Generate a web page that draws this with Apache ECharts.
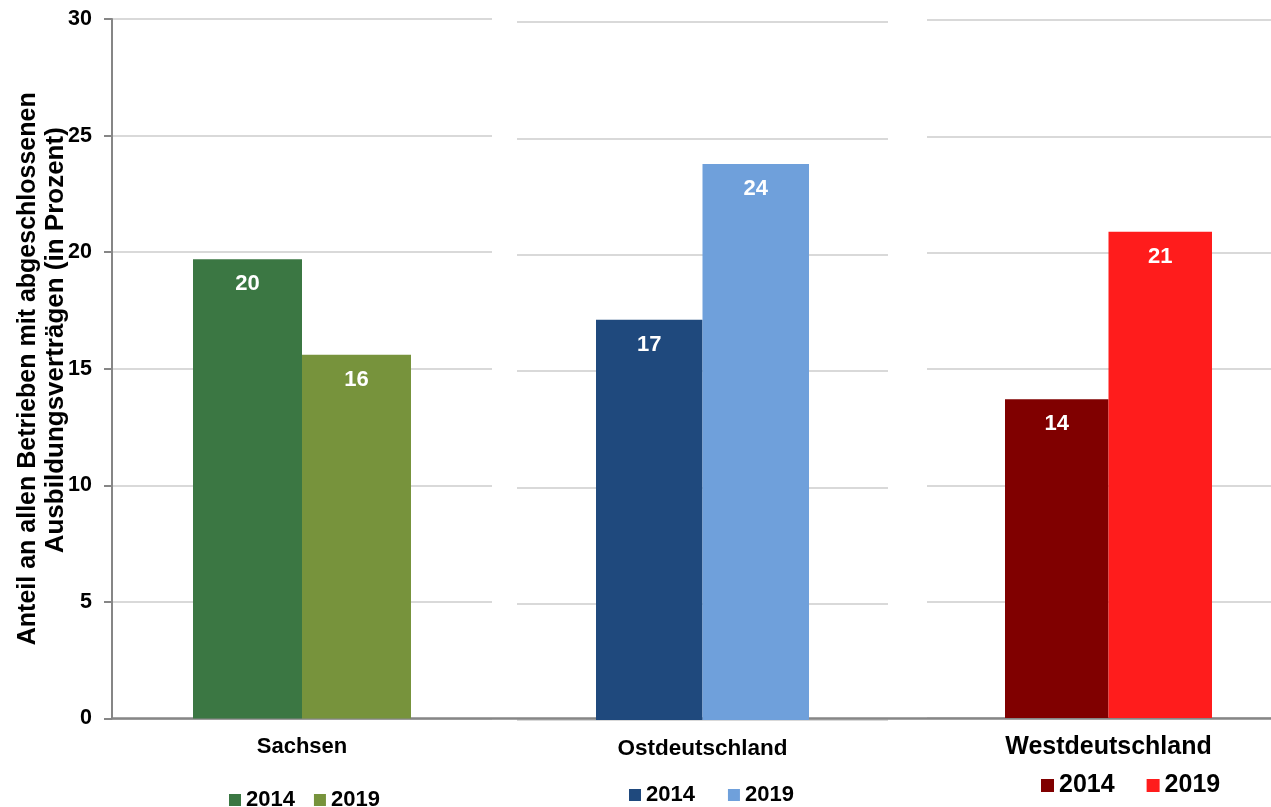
<!DOCTYPE html>
<html>
<head>
<meta charset="utf-8">
<script src="https://cdn.jsdelivr.net/npm/echarts@6/dist/echarts.min.js"></script>
<style>
  html, body { margin: 0; padding: 0; background: #ffffff; }
  #chart { width: 1271px; height: 807px; }
</style>
</head>
<body>
<div id="chart"></div>
<script>
// Regions, survey years and shares (percent of all establishments)
const regions = ['Sachsen', 'Ostdeutschland', 'Westdeutschland'];
const years = ['2014', '2019'];
const values2014 = [19.7, 17.2, 13.7];
const values2019 = [15.6, 23.9, 20.9];
const yTicks = { min: 0, max: 30, interval: 5 };
const titleLine1 = 'Anteil an allen Betrieben mit abgeschlossenen';
const titleLine2 = 'Ausbildungsverträgen (in Prozent)';

// Colour pairs per region: [2014, 2019]
const palette = [
  ['#3B7743', '#77933C'],
  ['#1F497D', '#6FA0DB'],
  ['#800000', '#FF1C1C']
];

// Panel geometry (one small multiple per region)
const panels = [
  { left: 112, width: 380, top: 19, height: 699.5, barWidth: 109, catSize: 22, catMargin: 17, legLeft: 229, legTop: 789, legGap: 19, legSize: 22, legIcon: 12 },
  { left: 517, width: 371, top: 22, height: 698, barWidth: 106.5, catSize: 22.5, catMargin: 17, legLeft: 629, legTop: 784, legGap: 33, legSize: 22, legIcon: 12 },
  { left: 927, width: 363, top: 20, height: 698, barWidth: 103.5, catSize: 25, catMargin: 17, legLeft: 1041, legTop: 773, legGap: 32, legSize: 25, legIcon: 13 }
];

const FONT = "'Liberation Sans', Arial, Helvetica, sans-serif";
const GRID_COLOR = '#D9D9D9';
const AXIS_COLOR = '#868686';

const grid = [];
const xAxis = [];
const yAxis = [];
const series = [];
const legend = [];

panels.forEach((p, i) => {
  grid.push({
    left: p.left, width: p.width, top: p.top, height: p.height,
    containLabel: false, outerBoundsMode: 'none'
  });
  xAxis.push({
    type: 'category',
    gridIndex: i,
    data: [regions[i]],
    axisLine: { show: false },
    axisTick: { show: false },
    axisLabel: {
      color: '#000', fontFamily: FONT, fontWeight: 'bold', fontSize: p.catSize, margin: p.catMargin
    }
  });
  yAxis.push({
    type: 'value',
    gridIndex: i,
    min: yTicks.min, max: yTicks.max, interval: yTicks.interval,
    axisLine: { show: i === 0, lineStyle: { color: AXIS_COLOR, width: 2 } },
    axisTick: { show: i === 0, length: 8, lineStyle: { color: AXIS_COLOR, width: 2 } },
    axisLabel: {
      show: i === 0, color: '#000', fontFamily: FONT, fontWeight: 'bold', fontSize: 21.5, margin: 20
    },
    splitLine: { show: true, lineStyle: { color: GRID_COLOR, width: 2 } },
    name: i === 0 ? '{a|' + titleLine1 + '}\n{b|' + titleLine2 + '}' : '',
    nameLocation: 'middle',
    nameRotate: 90,
    nameGap: 42.5,
    nameMoveOverlap: false,
    nameTextStyle: {
      color: '#000', fontFamily: FONT, fontWeight: 'bold', align: 'center',
      rich: {
        a: { color: '#000', fontFamily: FONT, fontWeight: 'bold', fontSize: 25, lineHeight: 26 },
        b: { color: '#000', fontFamily: FONT, fontWeight: 'bold', fontSize: 26, lineHeight: 28, padding: [0, 0, 0, 57] }
      }
    }
  });
  const vals = [values2014[i], values2019[i]];
  years.forEach((yr, k) => {
    series.push({
      name: regions[i] + ' ' + yr,
      type: 'bar',
      xAxisIndex: i,
      yAxisIndex: i,
      data: [vals[k]],
      barWidth: p.barWidth,
      barGap: '0%',
      itemStyle: { color: palette[i][k] },
      label: {
        show: true,
        position: 'insideTop',
        distance: 14,
        color: '#fff',
        fontFamily: FONT,
        fontWeight: 'bold',
        fontSize: 22,
        formatter: (q) => String(Math.round(q.value))
      }
    });
  });
  legend.push({
    left: p.legLeft,
    top: p.legTop,
    padding: 0,
    orient: 'horizontal',
    itemWidth: p.legIcon,
    itemHeight: p.legIcon,
    itemGap: p.legGap,
    icon: 'rect',
    data: years.map(yr => regions[i] + ' ' + yr),
    formatter: (name) => name.split(' ').pop(),
    textStyle: { color: '#000', fontFamily: FONT, fontWeight: 'bold', fontSize: p.legSize },
    selectedMode: false
  });
});

// Shared baseline running under all three panels
grid.push({ left: 112, right: 0, top: 19, height: 699.5, outerBoundsMode: 'none' });
xAxis.push({
  type: 'category', gridIndex: 3, data: [''],
  axisLine: { show: true, lineStyle: { color: AXIS_COLOR, width: 2.5 } },
  axisTick: { show: false }, axisLabel: { show: false }
});
yAxis.push({
  type: 'value', gridIndex: 3, min: 0, max: 30, show: false, splitLine: { show: false }
});

const chart = echarts.init(document.getElementById('chart'), null, { renderer: 'canvas' });
chart.setOption({
  animation: false,
  backgroundColor: '#ffffff',
  grid, xAxis, yAxis, series, legend
});
</script>
</body>
</html>
